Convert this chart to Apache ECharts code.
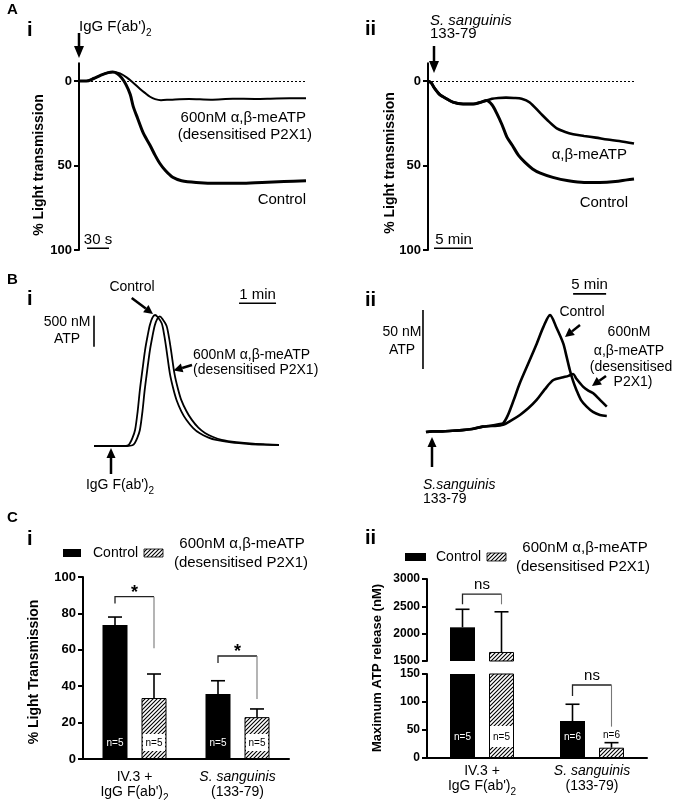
<!DOCTYPE html>
<html><head><meta charset="utf-8">
<script src="https://cdn.jsdelivr.net/npm/echarts@6/dist/echarts.min.js"></script>
<style>html,body{margin:0;padding:0;background:#fff}#c{width:675px;height:800px}</style>
</head><body><div id="c"></div>
<script>
const FF = '"Liberation Sans", Arial, Helvetica, sans-serif';

// ---- Panel A i : light transmission (time in s, % transmission) ----
const aiControl = [[0,0],[10,0],[20,-1.5],[30,-3.5],[40,-5],[46,-5.3],[52,-4.5],[58,-2],[64,2],[70,8],[74,15],[80,22],[88,31],[97,38],[104,44],[110,48.5],[118,53],[128,57],[140,59],[160,60],[190,60.5],[220,60.5],[250,60],[280,59.5],[310,59]];
const aiMeATP = [[0,0],[10,0],[20,-1.5],[30,-3.5],[40,-5],[48,-5.4],[56,-4.5],[65,-2.2],[74,1],[83,4.5],[90,7],[97,9.3],[104,10.7],[112,11.3],[125,11],[150,10.6],[180,11],[210,10.5],[240,10.6],[270,10.3],[310,10.2]];
// ---- Panel A ii (time in min) ----
const aiiControl = [[0,0],[0.4,1],[0.8,4],[1.5,8],[2.2,10],[3.2,12.5],[4.5,13.6],[5.8,13.6],[6.8,12.5],[7.5,11.5],[8.2,14],[8.8,19],[9.5,26],[10.1,33],[10.8,38],[11.6,44],[12.4,48],[13.4,52],[14.4,54.5],[16,57],[18,59],[20,60],[22,60],[24,59.5],[25.5,58.5],[26.4,58]];
const aiiMeATP = [[0,0],[0.4,1],[0.8,4],[1.5,8],[2.2,10],[3.2,12.5],[4.5,13.6],[5.8,13.6],[6.8,12.5],[7.5,11.5],[8.2,10.5],[9,10],[10,9.8],[11,10],[12,10.5],[13,12.5],[14.4,19],[15.5,24],[16.5,28],[17.5,30],[18.6,31.5],[20,32.5],[21.5,33.5],[23,34.6],[24.5,35.5],[26.4,37]];
const aTicks = [0, 50, 100];
// ---- Panel B i : ATP release (time in min, nM) ----
const biControl = [[0,0],[0.8,0],[0.92,10],[0.97,43],[1.04,130],[1.11,258],[1.18,560],[1.24,903],[1.31,1230],[1.38,1548],[1.45,1780],[1.51,1952],[1.58,2070],[1.65,2113],[1.72,2080],[1.83,1979],[1.9,1780],[1.96,1548],[2.05,1172],[2.14,930],[2.23,742],[2.36,560],[2.5,419],[2.68,290],[2.86,204],[3.08,140],[3.3,97],[3.7,58],[4.2,32],[4.6,22],[5.0,16]];
const biMeATP = [[0,0],[0.9,0],[1.04,12],[1.1,45],[1.17,130],[1.24,258],[1.31,560],[1.37,900],[1.44,1230],[1.51,1540],[1.58,1770],[1.64,1940],[1.71,2050],[1.78,2090],[1.85,2050],[1.96,1940],[2.03,1740],[2.09,1510],[2.18,1150],[2.27,920],[2.36,740],[2.5,560],[2.64,425],[2.82,295],[3.0,210],[3.22,145],[3.45,100],[3.85,62],[4.3,36],[4.7,24],[5.0,19]];
// ---- Panel B ii ----
const biiControl = [[0,0],[1,0.5],[2.5,0.5],[4,1],[5.5,1.5],[7,2.5],[8.6,4.5],[10,5.5],[11,6.5],[11.7,7.4],[12.4,14],[13.3,27],[14.2,41],[15.5,58],[16.8,75],[17.8,89],[18.8,99],[19.8,88],[20.8,75],[21.3,64],[21.8,52.5],[22.3,43],[22.8,35.6],[23.5,27],[24.35,21.5],[25.3,17],[26.36,14.4],[27.4,13.5]];
const biiMeATP = [[0,0],[1,0.5],[2.5,0.5],[4,1],[5.5,1.5],[7,2.5],[8.6,4.5],[10,5],[11.7,6],[13,10],[14.24,14.4],[15.5,20],[16.77,27.1],[18,36],[19.3,44],[20.8,46.3],[21.6,47.5],[22.3,49.1],[22.8,45],[23.8,38.4],[24.6,35],[25.35,32.8],[26.4,27],[27.4,21.5]];
// scale bars (data units of each panel)
const aiScale = [[11,99],[41,99]];
const aiiScale = [[0.77,99],[5.77,99]];
const biScaleV = [[0,1600],[0,2100]];
const biScaleH = [[3.92,2302],[4.92,2302]];
const biiScaleV = [[-0.45,53.3],[-0.45,103.3]];
const biiScaleH = [[22.3,117],[27.3,117]];
// ---- Panel C ----
const cCategories = ['IV.3 +\nIgG F(ab\')2', 'S. sanguinis\n(133-79)'];
const ciControl = [73.6, 35.7], ciControlSem = [4.4, 7.3];
const ciMeATP = [33.5, 23.0], ciMeATPSem = [13.2, 4.5];
const ciN = [5, 5];
const ciBracketLeft = [85.5, 52.7], ciBracketTop = [89.2, 56.6], ciBracketRight = [60.8, 33], ciSig = ['*', '*'];
const ciiControl = [2116, 66], ciiControlSem = [330, 30];
const ciiMeATP = [1665, 18.4], ciiMeATPSem = [735, 9];
const ciiN = [5, 6];
const ciiBracketLeft = [2537, 110.7], ciiBracketTop = [2725, 130.4], ciiBracketRight = [2537, 56], ciiSig = ['ns', 'ns'];

const BW = 25, GAP = 14, OFF = (BW + GAP) / 2;

function hatchCanvas() {
  const s = 4, c = document.createElement('canvas');
  c.width = s; c.height = s;
  const g = c.getContext('2d');
  g.fillStyle = '#fff'; g.fillRect(0, 0, s, s);
  g.strokeStyle = '#000'; g.lineWidth = 1.1;
  g.beginPath();
  g.moveTo(-1, s + 1); g.lineTo(s + 1, -1);
  g.moveTo(-1, 1); g.lineTo(1, -1);
  g.moveTo(s - 1, s + 1); g.lineTo(s + 1, s - 1);
  g.stroke();
  return c;
}
const HATCH = { image: hatchCanvas(), repeat: 'repeat' };

function trace(xi, data, width) {
  return { type: 'line', xAxisIndex: xi, yAxisIndex: xi, data, showSymbol: false, symbol: 'none', smooth: 0.3,
    lineStyle: { color: '#000', width }, silent: true, animation: false, z: 3 };
}
function scaleBar(xi, pts, text) {
  const data = pts.map(p => ({ value: p }));
  if (text) {
    const mid = [(pts[0][0] + pts[1][0]) / 2, (pts[0][1] + pts[1][1]) / 2];
    data.splice(1, 0, { value: mid, label: { show: true, formatter: text, position: 'top', distance: 1, color: '#000', fontSize: 15, fontFamily: FF } });
  }
  return { type: 'line', xAxisIndex: xi, yAxisIndex: xi, data, showSymbol: true, symbol: 'circle', symbolSize: 0,
    lineStyle: { color: '#000', width: 1.6 }, silent: true, animation: false, clip: false };
}
function errSeries(ax, vals, sems, side, range) {
  const data = vals.map((v, i) => [i, v, sems[i]]).filter(d => d[1] < range[1] && d[1] + d[2] > range[0]);
  return { type: 'custom', xAxisIndex: ax, yAxisIndex: ax, z: 6, silent: true, animation: false, clip: true, data,
    renderItem: (p, api) => {
      const b = api.coord([api.value(0), api.value(1)]);
      const t = api.coord([api.value(0), api.value(1) + api.value(2)]);
      const x = b[0] + (side ? OFF : -OFF);
      return { type: 'group', children: [
        { type: 'line', shape: { x1: x, y1: b[1], x2: x, y2: t[1] }, style: { stroke: '#000', lineWidth: 1.6 } },
        { type: 'line', shape: { x1: x - 7, y1: t[1], x2: x + 7, y2: t[1] }, style: { stroke: '#000', lineWidth: 1.6 } }
      ] };
    } };
}
function bracketSeries(ax, idx, left, top, right, sig) {
  return { type: 'custom', xAxisIndex: ax, yAxisIndex: ax, z: 6, silent: true, animation: false,
    data: idx.map(i => [i, left[i], top[i], right[i]]),
    renderItem: (p, api) => {
      const i = api.value(0);
      const cx = api.coord([i, api.value(2)]);
      const xl = cx[0] - OFF, xr = cx[0] + OFF;
      const yl = api.coord([i, api.value(1)])[1], yt = cx[1], yr = api.coord([i, api.value(3)])[1];
      const s = sig[i];
      return { type: 'group', children: [
        { type: 'polyline', shape: { points: [[xl, yl], [xl, yt], [xr, yt]] }, style: { stroke: '#222', lineWidth: 1.3, fill: null } },
        { type: 'line', shape: { x1: xr, y1: yt, x2: xr, y2: yr }, style: { stroke: '#777', lineWidth: 1.1 } },
        { type: 'text', x: (xl + xr) / 2, y: s === '*' ? yt - 4 : yt - 9,
          style: { text: s, fill: '#000', align: 'center', verticalAlign: 'middle',
            font: (s === '*' ? 'bold 18px ' : '15px ') + FF } }
      ] };
    } };
}
function bars(ax, name, vals, isHatch, labelFn) {
  return { type: 'bar', name, xAxisIndex: ax, yAxisIndex: ax, barWidth: BW, barGap: (GAP / BW * 100) + '%', clip: true, animation: false,
    itemStyle: isHatch ? { color: HATCH, borderColor: '#000', borderWidth: 1 } : { color: '#000' },
    data: vals.map((v, i) => ({ value: v, label: labelFn ? labelFn(i) : { show: false } })) };
}

const traceYAxis = gi => ({ type: 'value', gridIndex: gi, inverse: true, min: -10.5, max: 100,
  axisLine: { show: true, onZero: false, lineStyle: { color: '#000', width: 2 } },
  axisTick: { show: true, length: 5, customValues: aTicks, lineStyle: { color: '#000', width: 2 } },
  axisLabel: { show: true, customValues: aTicks, margin: 7, color: '#000', fontSize: 13, fontWeight: 'bold', fontFamily: FF },
  splitLine: { show: false } });
const barYAxis = (gi, min, max, interval, fs) => ({ type: 'value', gridIndex: gi, min, max, interval,
  axisLine: { show: true, onZero: false, lineStyle: { color: '#000', width: 2 } },
  axisTick: { show: true, length: 5, lineStyle: { color: '#000', width: 2 } },
  axisLabel: { margin: 7, color: '#000', fontSize: fs, fontWeight: 'bold', fontFamily: FF, formatter: v => String(v) },
  splitLine: { show: false } });
const catRich = {
  n: { fontSize: 14, fontFamily: FF, color: '#000', lineHeight: 15, verticalAlign: 'top' },
  s: { fontSize: 10, fontFamily: FF, color: '#000', lineHeight: 10, verticalAlign: 'top', padding: [8, 0, 0, 0] },
  i: { fontSize: 14, fontFamily: FF, color: '#000', lineHeight: 15, verticalAlign: 'top', fontStyle: 'italic' }
};
function catFormatter(v) {
  const lines = v.split('\n');
  const fmt = l => l.startsWith('S. ') ? '{i|' + l + '}' : (l.endsWith('2') ? '{n|' + l.slice(0, -1) + '}{s|2}' : '{n|' + l + '}');
  return lines.map(fmt).join('\n');
}
const catAxis = (gi, margin, show) => ({ type: 'category', gridIndex: gi, data: cCategories, show,
  axisLine: { show: true, lineStyle: { color: '#000', width: 2 } }, axisTick: { show: false },
  axisLabel: { interval: 0, margin, formatter: catFormatter, rich: catRich } });

// ---- graphics helpers ----
function T(x, y, text, o = {}) {
  return { type: 'text', x, y, rotation: o.rot || 0, silent: true,
    style: { text, fill: '#000', align: o.align || 'left', verticalAlign: 'middle',
      font: (o.italic ? 'italic ' : '') + (o.bold ? 'bold ' : '') + (o.size || 15) + 'px ' + FF } };
}
function subText(x, y, size, align) {
  return { type: 'text', x, y: y + 2, silent: true, style: { text: '{a|IgG F(ab\')}{b|2}', align, verticalAlign: 'middle',
    rich: { a: { fontSize: size, fontFamily: FF, fill: '#000', lineHeight: size + 1, verticalAlign: 'top' },
            b: { fontSize: Math.round(size * 0.68), fontFamily: FF, fill: '#000', lineHeight: 10, verticalAlign: 'top', padding: [Math.round(size * 0.6), 0, 0, 0] } } } };
}
function arrow(x1, y1, x2, y2, hl, hw, lw) {
  const a = Math.atan2(y2 - y1, x2 - x1);
  const bx = x2 - hl * Math.cos(a), by = y2 - hl * Math.sin(a);
  const px = -Math.sin(a), py = Math.cos(a);
  return [
    { type: 'line', silent: true, shape: { x1, y1, x2: bx, y2: by }, style: { stroke: '#000', lineWidth: lw } },
    { type: 'polygon', silent: true, shape: { points: [[x2, y2], [bx + px * hw, by + py * hw], [bx - px * hw, by - py * hw]] }, style: { fill: '#000' } }
  ];
}

const graphics = [
  // panel letters
  T(7, 10, 'A', { bold: true, size: 15 }), T(27, 30, 'i', { bold: true, size: 20 }), T(365, 29, 'ii', { bold: true, size: 20 }),
  T(7, 280, 'B', { bold: true, size: 15 }), T(27, 299, 'i', { bold: true, size: 20 }), T(365, 300, 'ii', { bold: true, size: 20 }),
  T(7, 518, 'C', { bold: true, size: 15 }), T(27, 539, 'i', { bold: true, size: 20 }), T(365, 538, 'ii', { bold: true, size: 20 }),
  // y-axis names
  T(39, 165, '% Light transmission', { bold: true, size: 14, rot: Math.PI / 2, align: 'center' }),
  T(390, 163, '% Light transmission', { bold: true, size: 14, rot: Math.PI / 2, align: 'center' }),
  T(34, 672, '% Light Transmission', { bold: true, size: 14, rot: Math.PI / 2, align: 'center' }),
  T(377, 668, 'Maximum ATP release (nM)', { bold: true, size: 13, rot: Math.PI / 2, align: 'center' }),
  // A i
  subText(79, 25, 15, 'left'),
  ...arrow(79, 33, 79, 58, 12, 5, 2.5),
  T(306, 118, '600nM \u03b1,\u03b2-meATP', { align: 'right' }),
  T(312, 135, '(desensitised P2X1)', { align: 'right' }),
  T(306, 200, 'Control', { align: 'right' }),
  // A ii
  T(430, 21, 'S. sanguinis', { italic: true }), T(430, 34, '133-79'),
  ...arrow(434, 46, 434, 73, 12, 5, 2.5),
  T(627, 155, '\u03b1,\u03b2-meATP', { align: 'right' }),
  T(628, 203, 'Control', { align: 'right' }),
  // B i
  T(132, 287, 'Control', { align: 'center', size: 14 }),
  ...arrow(131.7, 298, 153, 314, 9, 4.5, 2.5),
  T(67, 322, '500 nM', { align: 'center', size: 14 }), T(67, 339, 'ATP', { align: 'center', size: 14 }),
  T(193, 355, '600nM \u03b1,\u03b2-meATP', { size: 14 }), T(193, 370, '(desensitised P2X1)', { size: 14 }),
  ...arrow(192, 365, 173.5, 370.5, 9, 4.5, 2.5),
  ...arrow(111, 474, 111, 448, 10, 4.5, 2.5),
  subText(120, 484, 14, 'center'),
  // B ii
  T(402, 332, '50 nM', { align: 'center', size: 14 }), T(402, 350, 'ATP', { align: 'center', size: 14 }),
  T(582, 312, 'Control', { align: 'center', size: 14 }),
  ...arrow(580, 325, 565, 337, 9, 4.5, 2.5),
  T(629, 332, '600nM', { align: 'center', size: 14 }), T(629, 351, '\u03b1,\u03b2-meATP', { align: 'center', size: 14 }),
  T(631, 367, '(desensitised', { align: 'center', size: 14 }), T(633, 382, 'P2X1)', { align: 'center', size: 14 }),
  ...arrow(606, 376, 592, 386, 9, 4.5, 2.5),
  ...arrow(432, 467, 432, 437, 10, 4.5, 2.5),
  T(423, 485, 'S.sanguinis', { italic: true, size: 14 }), T(423, 499, '133-79', { size: 14 }),
  // C i legend
  { type: 'rect', silent: true, shape: { x: 63, y: 549, width: 18, height: 8 }, style: { fill: '#000' } },
  T(93, 553, 'Control', { size: 14 }),
  { type: 'rect', silent: true, shape: { x: 144, y: 549, width: 19, height: 8 }, style: { fill: HATCH, stroke: '#000', lineWidth: 0.8 } },
  T(242, 544, '600nM \u03b1,\u03b2-meATP', { align: 'center' }), T(241, 563, '(desensitised P2X1)', { align: 'center' }),
  // C ii legend
  { type: 'rect', silent: true, shape: { x: 405, y: 553, width: 21, height: 8 }, style: { fill: '#000' } },
  T(436, 557, 'Control', { size: 14 }),
  { type: 'rect', silent: true, shape: { x: 487, y: 553, width: 19, height: 8 }, style: { fill: HATCH, stroke: '#000', lineWidth: 0.8 } },
  T(585, 548, '600nM \u03b1,\u03b2-meATP', { align: 'center' }), T(583, 567, '(desensitised P2X1)', { align: 'center' })
];

const zeroLine = { silent: true, symbol: 'none', label: { show: false }, animation: false,
  lineStyle: { color: '#000', type: [2, 2], width: 1 }, data: [{ yAxis: 0 }] };

const g = (left, top, width, height) => ({ left, top, width, height, containLabel: false, outerBoundsMode: 'none' });

const option = {
  backgroundColor: '#fff',
  animation: false,
  textStyle: { fontFamily: FF },
  grid: [g(79, 63.3, 227, 186.7), g(428, 63.3, 206, 186.7), g(94, 297.2, 185, 161.2), g(422, 290.3, 186.1, 155.8),
         g(83, 577, 206, 182), g(427, 579, 220, 82), g(427, 674, 220, 84)],
  xAxis: [
    { type: 'value', gridIndex: 0, min: 0, max: 310, show: false },
    { type: 'value', gridIndex: 1, min: 0, max: 26.4, show: false },
    { type: 'value', gridIndex: 2, min: 0, max: 5, show: false },
    { type: 'value', gridIndex: 3, min: -0.6, max: 27.6, show: false },
    catAxis(4, 11, true), catAxis(5, 6, false), catAxis(6, 6, true)
  ],
  yAxis: [
    traceYAxis(0), traceYAxis(1),
    { type: 'value', gridIndex: 2, min: -200, max: 2400, show: false },
    { type: 'value', gridIndex: 3, min: -12, max: 120, show: false },
    barYAxis(4, 0, 100, 20, 13), barYAxis(5, 1500, 3000, 500, 12), barYAxis(6, 0, 150, 50, 12)
  ],
  graphic: { elements: graphics },
  series: [
    Object.assign(trace(0, aiMeATP, 2), { markLine: zeroLine }),
    trace(0, aiControl, 3),
    scaleBar(0, aiScale, '30 s'),
    Object.assign(trace(1, aiiMeATP, 2.6), { markLine: zeroLine }),
    trace(1, aiiControl, 3),
    scaleBar(1, aiiScale, '5 min'),
    trace(2, biControl, 1.8), trace(2, biMeATP, 1.8),
    scaleBar(2, biScaleV), scaleBar(2, biScaleH, '1 min'),
    trace(3, biiControl, 2.6), trace(3, biiMeATP, 2.6),
    scaleBar(3, biiScaleV), scaleBar(3, biiScaleH, '5 min'),
    // C i
    bars(4, 'Control', ciControl, false, i => ({ show: true, position: 'insideBottom', distance: 11, formatter: 'n=' + ciN[i], color: '#fff', fontSize: 10, fontFamily: FF })),
    bars(4, '600nM', ciMeATP, true, i => ({ show: true, position: 'insideBottom', distance: 8, formatter: 'n=' + ciN[i], color: '#000', fontSize: 10, fontFamily: FF, backgroundColor: '#fff', padding: [4, 0, 3, 0], width: 22, align: 'center' })),
    errSeries(4, ciControl, ciControlSem, 0, [0, 100]), errSeries(4, ciMeATP, ciMeATPSem, 1, [0, 100]),
    bracketSeries(4, [0, 1], ciBracketLeft, ciBracketTop, ciBracketRight, ciSig),
    // C ii upper
    bars(5, 'Control', ciiControl, false), bars(5, '600nM', ciiMeATP, true),
    errSeries(5, ciiControl, ciiControlSem, 0, [1500, 3000]), errSeries(5, ciiMeATP, ciiMeATPSem, 1, [1500, 3000]),
    bracketSeries(5, [0], ciiBracketLeft, ciiBracketTop, ciiBracketRight, ciiSig),
    // C ii lower
    bars(6, 'Control', ciiControl, false, i => ({ show: true, position: 'insideBottom', distance: 16, formatter: 'n=' + ciiN[i], color: '#fff', fontSize: 10, fontFamily: FF })),
    bars(6, '600nM', ciiMeATP, true, i => ciiMeATP[i] > 150
      ? { show: true, position: 'insideBottom', distance: 11, formatter: 'n=' + ciiN[i], color: '#000', fontSize: 10, fontFamily: FF, backgroundColor: '#fff', padding: [6, 0, 5, 0], width: 23, align: 'center' }
      : { show: true, position: 'top', distance: 7, formatter: 'n=' + ciiN[i], color: '#000', fontSize: 10, fontFamily: FF }),
    errSeries(6, ciiControl, ciiControlSem, 0, [0, 150]), errSeries(6, ciiMeATP, ciiMeATPSem, 1, [0, 150]),
    bracketSeries(6, [1], ciiBracketLeft, ciiBracketTop, ciiBracketRight, ciiSig)
  ]
};

const chart = echarts.init(document.getElementById('c'), null, { renderer: 'canvas' });
chart.setOption(option);
</script></body></html>
